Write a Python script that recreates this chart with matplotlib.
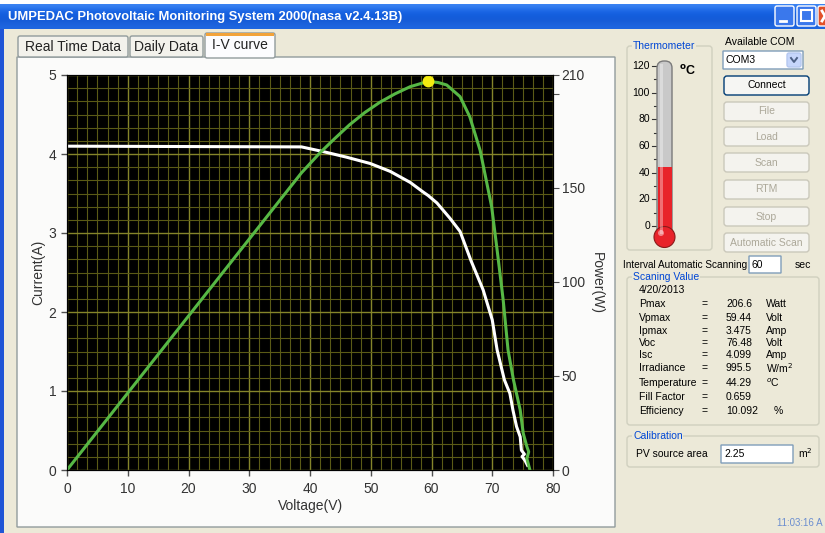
import matplotlib.pyplot as plt
import matplotlib.ticker as ticker
import numpy as np
from matplotlib.patches import Rectangle, FancyBboxPatch, Circle

plt.rcParams['font.family'] = ['Liberation Sans', 'DejaVu Sans']

# Figure size in pixels
W, H = 825, 533
BG = '#ece9d8'
BLUE_LABEL = '#0046d5'
DISABLED = '#aca899'

# I-V curve (V, A)
iv_voltage = [0, 38.6, 42.2, 46.0, 49.9, 53.2, 56.5, 58.6, 59.44, 60.9, 63.0, 64.7,
              66.5, 68.5, 70.0, 70.8, 72.0, 72.9, 73.4, 74.0, 74.6, 74.8, 75.3,
              74.9, 75.4, 75.8]
iv_current = [4.099, 4.09, 4.03, 3.96, 3.88, 3.78, 3.64, 3.52, 3.475, 3.38, 3.19, 3.02,
              2.65, 2.28, 1.90, 1.52, 1.14, 0.97, 0.76, 0.55, 0.42, 0.25, 0.20,
              0.17, 0.12, 0.06]

# P-V curve (V, W)
pv_voltage = [0, 38.6, 41.6, 44.0, 46.5, 49.0, 51.5, 54.0, 56.5, 59.44, 61.1, 62.5,
              64.7, 66.3, 68.0, 69.9, 70.8, 71.8, 72.6, 73.5, 74.6, 75.1, 75.7, 76.0,
              75.7, 76.2]
pv_power = [0, 158, 168.5, 176, 183.5, 190, 195.5, 200, 203.8, 206.6, 206, 204.7,
            198.5, 187.8, 170, 140, 117, 90.4, 63.8, 47.8, 31.9, 19.5, 12.4, 9.7,
            6.0, 0]

vpmax, pmax = 59.44, 206.6
temperature = 44.29

# Scanning values panel
value_names = ['Pmax', 'Vpmax', 'Ipmax', 'Voc', 'Isc', 'Irradiance', 'Temperature',
               'Fill Factor', 'Efficiency']
value_numbers = ['206.6', '59.44', '3.475', '76.48', '4.099', '995.5', '44.29',
                 '0.659', '10.092']
value_units = ['Watt', 'Volt', 'Amp', 'Volt', 'Amp', 'W/m$^2$', '$^o$C', '', '%']
value_rows_y = [304, 318, 331, 343, 355, 368, 383, 397, 411]

buttons = ['File', 'Load', 'Scan', 'RTM', 'Stop', 'Automatic Scan']
buttons_y = [102, 127, 153, 180, 207, 233]

fig = plt.figure(figsize=(W / 100, H / 100), dpi=100)
fig.patch.set_facecolor(BG)

# background "window" drawn in pixel coordinates
bg = fig.add_axes([0, 0, 1, 1])
bg.axis('off')


def box(x0, y0, x1, y1, fc, ec, r=0, lw=1.0, z=1):
    p = FancyBboxPatch((x0, y0), x1 - x0, y1 - y0,
                       boxstyle=f'round,pad=0,rounding_size={r}',
                       fc=fc, ec=ec, lw=lw, zorder=z)
    bg.add_patch(p)


def txt(x, y, s, size=7.5, color='black', ha='left', **kw):
    bg.text(x, y, s, fontsize=size, color=color, ha=ha, va='center', **kw)


def group(x0, y0, x1, y1, label):
    box(x0, y0, x1, y1, 'none', '#d0d0bf', r=3)
    txt(x0 + 6, y0, label, color=BLUE_LABEL,
        bbox=dict(fc=BG, ec='none', pad=0.5), zorder=3)


# title bar
grad = np.array([[0.24, 0.52, 0.95], [0.10, 0.40, 0.90], [0.07, 0.36, 0.86],
                 [0.09, 0.36, 0.84], [0.12, 0.40, 0.88]])[:, None, :]
bg.add_patch(Rectangle((0, 0), W, 4, fc='white', ec='none'))
bg.imshow(grad, extent=(0, W, 29, 3), aspect='auto', interpolation='bicubic')
bg.add_patch(Rectangle((0, 29), 4, H, fc='#1f55d6', ec='none'))
bg.text(8, 17, 'UMPEDAC Photovoltaic Monitoring System 2000(nasa v2.4.13B)',
        fontsize=9.4, color='white', fontweight='bold', va='center')
box(775, 6, 794, 26, '#3a78ec', 'white', r=2)
bg.plot([780, 786], [21, 21], color='white', lw=2)
box(797, 6, 816, 26, '#3a78ec', 'white', r=2)
bg.add_patch(Rectangle((801, 10), 11, 11, fc='none', ec='white', lw=1.5))
box(818, 6, 840, 26, '#e2512a', 'white', r=2)
bg.plot([822, 828], [11, 21], color='white', lw=2)
bg.plot([822, 828], [21, 11], color='white', lw=2)

# tabs and tab body
box(17, 57, 615, 527, '#fbfbfa', '#919b9c')
box(18, 36, 128, 57, '#f3f2ec', '#919b9c', r=2)
txt(73, 47, 'Real Time Data', size=10, color='#222222', ha='center')
box(130, 36, 203, 57, '#f3f2ec', '#919b9c', r=2)
txt(166.5, 47, 'Daily Data', size=10, color='#222222', ha='center')
box(205, 33, 275, 58, '#fcfcfe', '#919b9c', r=2, z=2)
bg.add_patch(Rectangle((206, 33), 68, 3, fc='#f2a33a', ec='none', zorder=3))
txt(240, 45, 'I-V curve', size=10, color='#222222', ha='center', zorder=3)

# axis titles of the chart
txt(38, 272, 'Current(A)', size=10, color='#333333', ha='center', rotation=90)
txt(310, 506, 'Voltage(V)', size=10, color='#333333', ha='center')
txt(597, 283, 'Power(W)', size=10, color='#333333', ha='center', rotation=270)

# thermometer
group(627, 46, 712, 250, 'Thermometer')
t_top, t_zero = 66, 226
for v in range(0, 121, 10):
    y = t_zero - v * (t_zero - t_top) / 120
    if v % 20 == 0:
        bg.plot([652, 657], [y, y], color='#333333', lw=0.8)
        txt(650, y, str(v), size=7.5, ha='right')
    else:
        bg.plot([654, 657], [y, y], color='#333333', lw=0.8)
box(657, 61, 672, 236, '#c9c9c9', '#7a7a7a', r=7, z=2)
y_t = t_zero - temperature * (t_zero - t_top) / 120
bg.add_patch(Rectangle((657.5, y_t), 14, 236 - y_t, fc='#e8232a', ec='none', zorder=3))
bg.add_patch(Circle((664.5, 237), 10.5, fc='#e8232a', ec='#8a1a1a', lw=0.8, zorder=4))
bg.add_patch(Rectangle((660, 64), 3, 170, fc='white', ec='none', alpha=0.35, zorder=4))
bg.add_patch(Circle((661, 233), 3, fc='white', ec='none', alpha=0.45, zorder=5))
txt(679, 71, '$^\\mathbf{o}$C', size=9, fontweight='bold')

# COM selection and buttons
txt(760, 42, 'Available COM', size=7.5, ha='center')
box(723, 51, 803, 69, 'white', '#7f9db9')
txt(726, 60, 'COM3', size=7.5)
box(787, 53, 801, 67, '#c6d6fb', '#b5c8f0', r=2)
bg.plot([791, 794, 797], [58, 62, 58], color='#4d6185', lw=1.4)
box(724, 76, 809, 95, '#f6f6f3', '#003c74', r=3)
txt(766.5, 85.5, 'Connect', size=7.5, ha='center')
for label, y in zip(buttons, buttons_y):
    box(724, y, 809, y + 19, '#f4f3ee', '#cac8bb', r=3)
    txt(766.5, y + 9.5, label, size=7.5, color=DISABLED, ha='center')

txt(623, 265, 'Interval Automatic Scanning', size=7.2)
box(749, 256, 781, 273, 'white', '#7f9db9')
txt(752, 264.5, '60', size=7.5)
txt(795, 265, 'sec', size=7.5)

# scanning values
group(627, 277, 819, 425, 'Scaning Value')
txt(639, 290, '4/20/2013', size=7.5)
for name, num, unit, y in zip(value_names, value_numbers, value_units, value_rows_y):
    txt(639, y, name, size=7.5)
    txt(702, y, '=', size=7.5)
    txt(726, y, num, size=7.5)
    txt(774 if unit == '%' else 766, y, unit, size=7.5)

# calibration
group(627, 436, 819, 467, 'Calibration')
txt(636, 454, 'PV source area', size=7.5)
box(721, 445, 793, 463, 'white', '#7f9db9')
txt(724, 454, '2.25', size=7.5)
txt(798, 453, 'm$^2$', size=7.5)
txt(777, 523, '11:03:16 A', size=7.0, color='#6b8ed0')

bg.set_xlim(0, W)
bg.set_ylim(H, 0)

# the chart itself
ax = fig.add_axes([67 / W, (H - 470) / H, 486 / W, 395 / H])
ax.set_facecolor('black')
ax.set_xlim(0, 80)
ax.set_ylim(0, 5)
ax.xaxis.set_major_locator(ticker.MultipleLocator(10))
ax.xaxis.set_minor_locator(ticker.MultipleLocator(10 / 6))
ax.yaxis.set_major_locator(ticker.MultipleLocator(1))
ax.yaxis.set_minor_locator(ticker.MultipleLocator(1 / 6))
ax.grid(which='minor', color='#5a5a16', lw=0.8)
ax.grid(which='major', color='#85852a', lw=1.0)
ax.set_axisbelow(True)
ax.tick_params(which='minor', length=0)
ax.tick_params(which='major', colors='#505050', labelcolor='#333333', labelsize=10,
               length=4.3, width=1.0)
ax.tick_params(axis='x', pad=4)
for s in ax.spines.values():
    s.set_color('black')

ax.plot(iv_voltage, iv_current, color='white', lw=2.2, solid_joinstyle='round')

ax2 = ax.twinx()
ax2.set_ylim(0, 210)
ax2.set_yticks([0, 50, 100, 150, 200, 210])
ax2.set_yticklabels(['0', '50', '100', '150', '', '210'])
ax2.tick_params(colors='#505050', labelcolor='#333333', labelsize=10, length=4.3, pad=2)
for s in ax2.spines.values():
    s.set_color('black')
ax2.plot(pv_voltage, pv_power, color='#57b845', lw=2.2, solid_joinstyle='round')
ax2.plot([vpmax], [pmax], 'o', color='#f4ec10', ms=7.5, mec='#f4ec10')

fig.savefig('out.png', dpi=100, facecolor=fig.get_facecolor())
